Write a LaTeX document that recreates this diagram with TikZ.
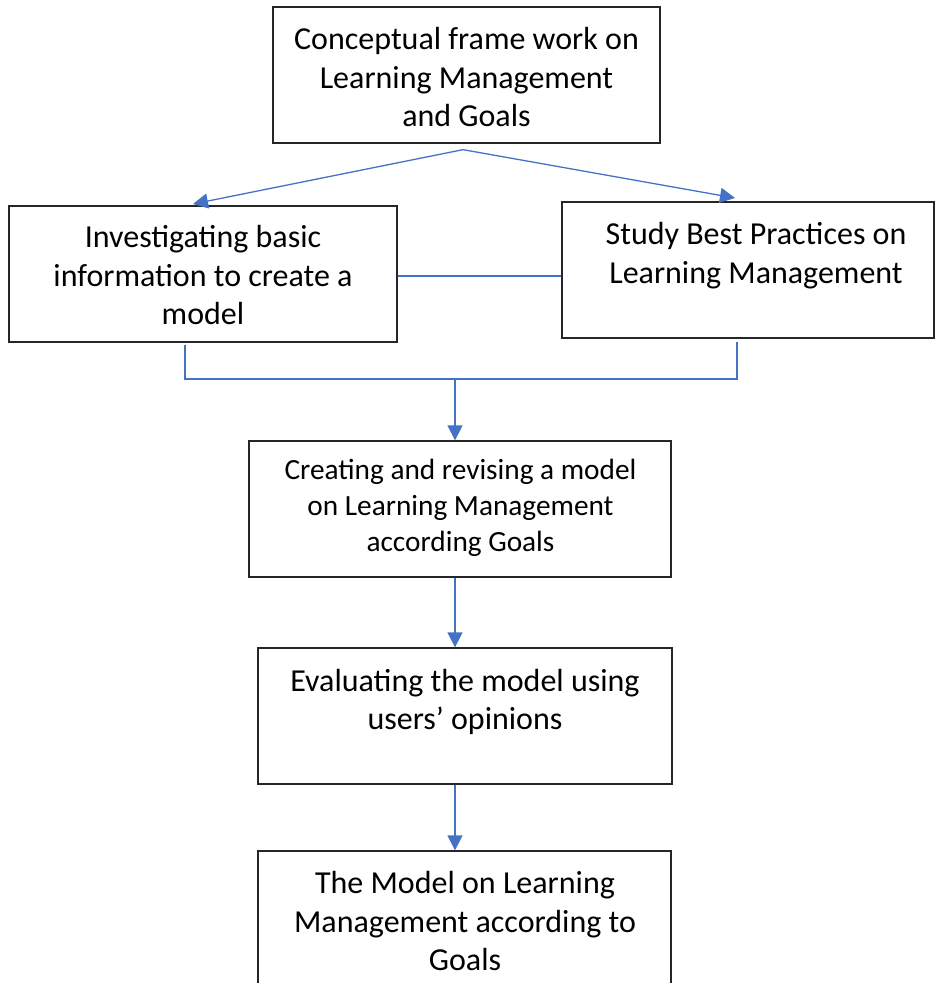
\documentclass[tikz,border=0pt]{standalone}
\usepackage{fontspec}
\setmainfont{Carlito}
\usetikzlibrary{arrows.meta,calc}
\definecolor{linkblue}{HTML}{4472C4}
\begin{document}
\begin{tikzpicture}[x=1pt,y=-1pt,
  boxnode/.style={draw=black!85,line width=1.3pt,inner sep=0pt,rectangle},
  txt/.style={font=\fontsize{32}{38.5}\selectfont,align=center,inner sep=0pt,anchor=base},
  smalltxt/.style={txt,font=\fontsize{29.3}{36}\selectfont},
  conn/.style={draw=linkblue,line width=1.3pt},
  arr/.style={conn,-{Triangle[length=15pt,width=15pt]}}]
\useasboundingbox (0,0) rectangle (937,983);
\clip (0,0) rectangle (937,983);
% boxes
\node[boxnode,minimum width=387pt,minimum height=136pt] (b1) at (466.5,75) {};
\node[boxnode,minimum width=388pt,minimum height=136pt] (b2) at (203,274) {};
\node[boxnode,minimum width=372pt,minimum height=136pt] (b3) at (748,270) {};
\node[boxnode,minimum width=422pt,minimum height=136pt] (b4) at (460,509) {};
\node[boxnode,minimum width=414pt,minimum height=136pt] (b5) at (465,716) {};
\node[boxnode,minimum width=413pt,minimum height=160pt] (b6) at (464.5,931) {};
% texts (anchor base = baseline of the last line)
\node[txt] (t1) at (466.5,126.5) {Conceptual frame work on\\Learning Management\\and Goals};
\node[txt] (t2) at (203,324.5) {Investigating basic\\information to create a\\model};
\node[txt] (t3) at (756,283) {Study Best Practices on\\Learning Management};
\node[smalltxt] (t4) at (460.5,551) {Creating and revising a model\\on Learning Management\\according Goals};
\node[txt] (t5) at (465,729.5) {Evaluating the model using\\users’ opinions};
\node[txt] (t6) at (465,970.5) {The Model on Learning\\Management according to\\Goals};
% connectors
\coordinate (apex) at ($(b1.south)+(-3.5,6)$);
\coordinate (tipL) at (193,204);
\coordinate (tipR) at (735,198);
\draw[arr] (apex) -- (tipL);
\draw[arr] (apex) -- (tipR);
\coordinate (hy) at (0,276);
\draw[conn] (b2.east |- hy) -- (b3.west |- hy);
\coordinate (s2) at ($(b2.south)+(-18,2)$);
\coordinate (s3) at ($(b3.south)+(-11,3)$);
\coordinate (jL) at (185,379);
\coordinate (jR) at (737,379);
\coordinate (jM) at (455,379);
\draw[conn] (s2) -- (jL) -- (jR) -- (s3);
\draw[arr] (jM) -- (b4.north -| jM);
\draw[arr] (b4.south -| jM) -- (b5.north -| jM);
\draw[arr] (b5.south -| jM) -- (b6.north -| jM);
\end{tikzpicture}
\end{document}
